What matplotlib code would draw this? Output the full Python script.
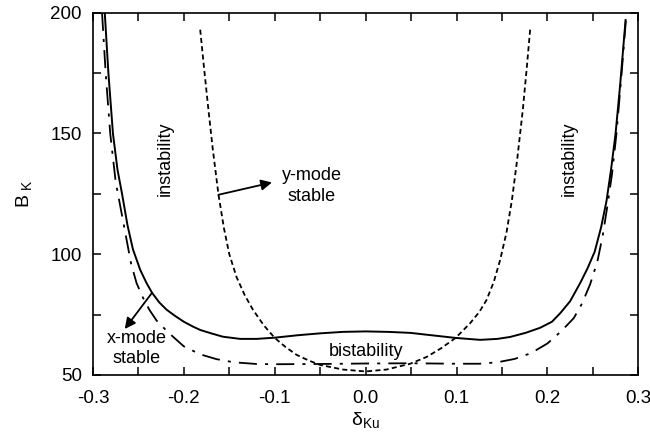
import matplotlib
matplotlib.use('Agg')
import matplotlib.pyplot as plt
from matplotlib.ticker import MultipleLocator

plt.rcParams['font.family'] = ['Liberation Sans', 'DejaVu Sans']
plt.rcParams['mathtext.default'] = 'regular'

# x-mode boundary (solid)
solid_d = [-0.287, -0.283, -0.278, -0.273, -0.268, -0.262, -0.256, -0.248, -0.241, -0.235,
           -0.227, -0.219, -0.21, -0.2, -0.19, -0.182, -0.17, -0.157, -0.138, -0.12,
           -0.1, -0.075, -0.05, -0.025, 0.0, 0.025, 0.049, 0.075, 0.099, 0.126,
           0.145, 0.159, 0.176, 0.192, 0.205, 0.214, 0.225, 0.236, 0.244, 0.252,
           0.259, 0.265, 0.27, 0.275, 0.28, 0.286]
solid_b = [200, 175, 150, 135, 125, 112, 102, 93.5, 88, 84,
           80, 77, 74.5, 72, 70, 68.6, 67.2, 65.8, 64.9, 64.9,
           65.4, 66.4, 67.2, 67.8, 68, 67.8, 67.4, 66.3, 65.3, 64.5,
           64.9, 65.7, 67.4, 69.5, 72, 75.5, 80.5, 88, 94, 101,
           111, 122, 135, 150, 170, 197]

# dash-dot curve
dd_d = [-0.29, -0.286, -0.281, -0.275, -0.27, -0.264, -0.258, -0.252, -0.245, -0.238,
        -0.23, -0.217, -0.2, -0.182, -0.164, -0.145, -0.12, -0.1, -0.05, 0.0,
        0.05, 0.1, 0.125, 0.145, 0.164, 0.182, 0.2, 0.215, 0.229, 0.238,
        0.247, 0.255, 0.261, 0.266, 0.271, 0.276, 0.281, 0.287]
dd_b = [200, 175, 150, 130, 120, 108, 96, 88, 82, 77,
        72.5, 67.5, 61.8, 58.5, 56.5, 55.2, 54.5, 54.4, 54.5, 54.7,
        54.8, 54.6, 54.6, 55.2, 56.6, 59, 63, 68, 73.5, 79.5,
        87.5, 97, 108, 120, 133, 150, 172, 200]

# y-mode boundary (dashed)
y_d = [-0.182, -0.178, -0.173, -0.168, -0.162, -0.156, -0.15, -0.142, -0.133, -0.124,
       -0.112, -0.1, -0.088, -0.076, -0.063, -0.05, -0.025, 0.0, 0.023, 0.049,
       0.067, 0.083, 0.099, 0.115, 0.125, 0.133, 0.141, 0.148, 0.155, 0.161,
       0.167, 0.173, 0.177, 0.181]
y_b = [193, 178, 160, 143, 125, 111, 100, 90.5, 83, 77,
       70.5, 65.3, 61.5, 58.3, 56, 54.1, 52.2, 51.4, 52.2, 54.6,
       57.4, 61, 65.3, 71.4, 76, 81, 88.5, 97.6, 109, 122.5,
       140, 160, 176, 193]

fig = plt.figure(figsize=(6.5, 4.41), dpi=100)
ax = fig.add_axes([0.143, 0.150, 0.839, 0.821])

ax.plot(solid_d, solid_b, color='black', lw=1.4)
ax.plot(dd_d, dd_b, color='black', lw=1.3, linestyle=(0, (10, 4.5, 1.7, 4.5)))
ax.plot(y_d, y_b, color='black', lw=1.3, linestyle=(0, (2.8, 1.8)))

ax.set_xlim(-0.3, 0.3)
ax.set_ylim(50, 200)
ax.xaxis.set_minor_locator(MultipleLocator(0.05))
ax.yaxis.set_major_locator(MultipleLocator(50))
ax.yaxis.set_minor_locator(MultipleLocator(25))
ax.set_xticks([-0.3, -0.2, -0.1, 0.0, 0.1, 0.2, 0.3])
ax.set_xticklabels(['-0.3', '-0.2', '-0.1', '0.0', '0.1', '0.2', '0.3'])
ax.tick_params(which='both', direction='in', top=True, right=True,
               length=6, width=1.1, labelsize=13.5)
ax.tick_params(axis='x', pad=11)
ax.tick_params(axis='y', pad=8)
for s in ax.spines.values():
    s.set_linewidth(1.2)

ax.set_xlabel('δ$_{Ku}$', fontsize=14, labelpad=2)
ax.set_ylabel('B$_{\\ K}$', fontsize=14, labelpad=12)

fs = 13
ax.text(-0.221, 139.5, 'instability', rotation=90, ha='center', va='center', fontsize=fs)
ax.text(0.224, 139.5, 'instability', rotation=90, ha='center', va='center', fontsize=fs)
ax.text(0.0, 59.6, 'bistability', ha='center', va='center', fontsize=fs)
ax.annotate('', xy=(-0.103, 129.7), xytext=(-0.162, 124.6),
            arrowprops=dict(arrowstyle='-|>', color='black', lw=1.3,
                            mutation_scale=16, shrinkA=0, shrinkB=0))
ax.text(-0.059, 128.3, 'y-mode\nstable', ha='center', va='center', fontsize=fs,
        linespacing=1.3)
ax.annotate('', xy=(-0.265, 69), xytext=(-0.235, 84),
            arrowprops=dict(arrowstyle='-|>', color='black', lw=1.3,
                            mutation_scale=16, shrinkA=0, shrinkB=0))
ax.text(-0.252, 60.8, 'x-mode\nstable', ha='center', va='center', fontsize=fs,
        linespacing=1.2)

fig.savefig('out.png', dpi=100)
